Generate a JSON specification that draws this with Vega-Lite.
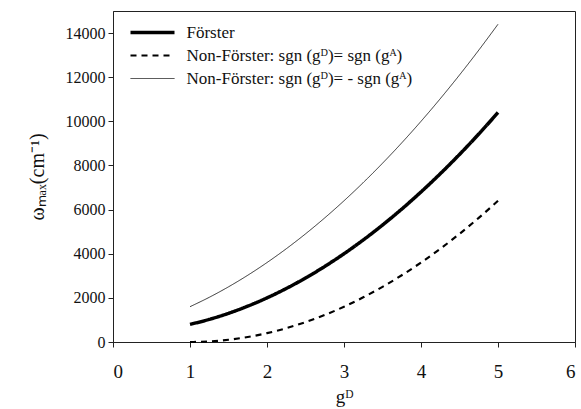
{
  "$schema": "https://vega.github.io/schema/vega-lite/v6.json",
  "autosize": "none",
  "width": 462,
  "height": 331,
  "padding": {"left": 113, "top": 11, "right": 6, "bottom": 67},
  "config": {
    "view": {"stroke": "#222", "strokeWidth": 1},
    "font": "Liberation Serif",
    "axis": {"grid": false, "domainColor": "#222", "tickColor": "#222", "labelColor": "#111", "titleColor": "#111", "labelFont": "Liberation Serif", "titleFont": "Liberation Serif", "titleFontWeight": "normal", "tickSize": 5},
    "legend": {"labelFont": "Liberation Serif", "labelColor": "#111"}
  },
  "data": {"values": [
    {"g": 1, "w": 800, "s": "Förster"},
    {"g": 1.25, "w": 1025, "s": "Förster"},
    {"g": 1.5, "w": 1300, "s": "Förster"},
    {"g": 1.75, "w": 1625, "s": "Förster"},
    {"g": 2, "w": 2000, "s": "Förster"},
    {"g": 2.25, "w": 2425, "s": "Förster"},
    {"g": 2.5, "w": 2900, "s": "Förster"},
    {"g": 2.75, "w": 3425, "s": "Förster"},
    {"g": 3, "w": 4000, "s": "Förster"},
    {"g": 3.25, "w": 4625, "s": "Förster"},
    {"g": 3.5, "w": 5300, "s": "Förster"},
    {"g": 3.75, "w": 6025, "s": "Förster"},
    {"g": 4, "w": 6800, "s": "Förster"},
    {"g": 4.25, "w": 7625, "s": "Förster"},
    {"g": 4.5, "w": 8500, "s": "Förster"},
    {"g": 4.75, "w": 9425, "s": "Förster"},
    {"g": 5, "w": 10400, "s": "Förster"},
    {"g": 1, "w": 0, "s": "Non-Förster:  sgn (gᴰ)= sgn (gᴬ)"},
    {"g": 1.25, "w": 25, "s": "Non-Förster:  sgn (gᴰ)= sgn (gᴬ)"},
    {"g": 1.5, "w": 100, "s": "Non-Förster:  sgn (gᴰ)= sgn (gᴬ)"},
    {"g": 1.75, "w": 225, "s": "Non-Förster:  sgn (gᴰ)= sgn (gᴬ)"},
    {"g": 2, "w": 400, "s": "Non-Förster:  sgn (gᴰ)= sgn (gᴬ)"},
    {"g": 2.25, "w": 625, "s": "Non-Förster:  sgn (gᴰ)= sgn (gᴬ)"},
    {"g": 2.5, "w": 900, "s": "Non-Förster:  sgn (gᴰ)= sgn (gᴬ)"},
    {"g": 2.75, "w": 1225, "s": "Non-Förster:  sgn (gᴰ)= sgn (gᴬ)"},
    {"g": 3, "w": 1600, "s": "Non-Förster:  sgn (gᴰ)= sgn (gᴬ)"},
    {"g": 3.25, "w": 2025, "s": "Non-Förster:  sgn (gᴰ)= sgn (gᴬ)"},
    {"g": 3.5, "w": 2500, "s": "Non-Förster:  sgn (gᴰ)= sgn (gᴬ)"},
    {"g": 3.75, "w": 3025, "s": "Non-Förster:  sgn (gᴰ)= sgn (gᴬ)"},
    {"g": 4, "w": 3600, "s": "Non-Förster:  sgn (gᴰ)= sgn (gᴬ)"},
    {"g": 4.25, "w": 4225, "s": "Non-Förster:  sgn (gᴰ)= sgn (gᴬ)"},
    {"g": 4.5, "w": 4900, "s": "Non-Förster:  sgn (gᴰ)= sgn (gᴬ)"},
    {"g": 4.75, "w": 5625, "s": "Non-Förster:  sgn (gᴰ)= sgn (gᴬ)"},
    {"g": 5, "w": 6400, "s": "Non-Förster:  sgn (gᴰ)= sgn (gᴬ)"},
    {"g": 1, "w": 1600, "s": "Non-Förster: sgn (gᴰ)= - sgn (gᴬ)"},
    {"g": 1.25, "w": 2025, "s": "Non-Förster: sgn (gᴰ)= - sgn (gᴬ)"},
    {"g": 1.5, "w": 2500, "s": "Non-Förster: sgn (gᴰ)= - sgn (gᴬ)"},
    {"g": 1.75, "w": 3025, "s": "Non-Förster: sgn (gᴰ)= - sgn (gᴬ)"},
    {"g": 2, "w": 3600, "s": "Non-Förster: sgn (gᴰ)= - sgn (gᴬ)"},
    {"g": 2.25, "w": 4225, "s": "Non-Förster: sgn (gᴰ)= - sgn (gᴬ)"},
    {"g": 2.5, "w": 4900, "s": "Non-Förster: sgn (gᴰ)= - sgn (gᴬ)"},
    {"g": 2.75, "w": 5625, "s": "Non-Förster: sgn (gᴰ)= - sgn (gᴬ)"},
    {"g": 3, "w": 6400, "s": "Non-Förster: sgn (gᴰ)= - sgn (gᴬ)"},
    {"g": 3.25, "w": 7225, "s": "Non-Förster: sgn (gᴰ)= - sgn (gᴬ)"},
    {"g": 3.5, "w": 8100, "s": "Non-Förster: sgn (gᴰ)= - sgn (gᴬ)"},
    {"g": 3.75, "w": 9025, "s": "Non-Förster: sgn (gᴰ)= - sgn (gᴬ)"},
    {"g": 4, "w": 10000, "s": "Non-Förster: sgn (gᴰ)= - sgn (gᴬ)"},
    {"g": 4.25, "w": 11025, "s": "Non-Förster: sgn (gᴰ)= - sgn (gᴬ)"},
    {"g": 4.5, "w": 12100, "s": "Non-Förster: sgn (gᴰ)= - sgn (gᴬ)"},
    {"g": 4.75, "w": 13225, "s": "Non-Förster: sgn (gᴰ)= - sgn (gᴬ)"},
    {"g": 5, "w": 14400, "s": "Non-Förster: sgn (gᴰ)= - sgn (gᴬ)"}
  ]},
  "mark": {"type": "line", "color": "black", "interpolate": "monotone", "strokeCap": "butt"},
  "encoding": {
    "x": {"field": "g", "type": "quantitative", "scale": {"domain": [0, 6], "nice": false},
      "axis": {"values": [0, 1, 2, 3, 4, 5, 6], "labelFontSize": 19, "labelPadding": 15, "title": "gᴰ", "titleFontSize": 19, "titlePadding": 6}},
    "y": {"field": "w", "type": "quantitative", "scale": {"domain": [0, 15000], "nice": false},
      "axis": {"values": [0, 2000, 4000, 6000, 8000, 10000, 12000, 14000], "format": "d", "labelFontSize": 16, "labelPadding": 3, "title": "ωₘₐₓ(cm⁻¹)", "titleFontSize": 20, "titlePadding": 18}},
    "strokeWidth": {"field": "s", "type": "nominal",
      "scale": {"domain": ["Förster", "Non-Förster:  sgn (gᴰ)= sgn (gᴬ)", "Non-Förster: sgn (gᴰ)= - sgn (gᴬ)"], "range": [3.5, 0.8, 0.9]},
      "legend": {"title": null, "orient": "none", "legendX": 31, "legendY": 13, "symbolType": "M-4,0H4", "symbolSize": 121, "symbolStrokeColor": "black", "labelOffset": 25.5, "labelFontSize": 17, "labelLimit": 500, "rowPadding": 5, "padding": 0}},
    "strokeDash": {"field": "s", "type": "nominal",
      "scale": {"domain": ["Förster", "Non-Förster:  sgn (gᴰ)= sgn (gᴬ)", "Non-Förster: sgn (gᴰ)= - sgn (gᴬ)"], "range": [[1, 0], [6, 5], [1, 0]]},
      "legend": {"title": null, "orient": "none", "legendX": 31, "legendY": 13, "symbolType": "M-4,0H4", "symbolSize": 121, "symbolStrokeColor": "black", "labelOffset": 25.5, "labelFontSize": 17, "labelLimit": 500, "rowPadding": 5, "padding": 0}}
  }
}
